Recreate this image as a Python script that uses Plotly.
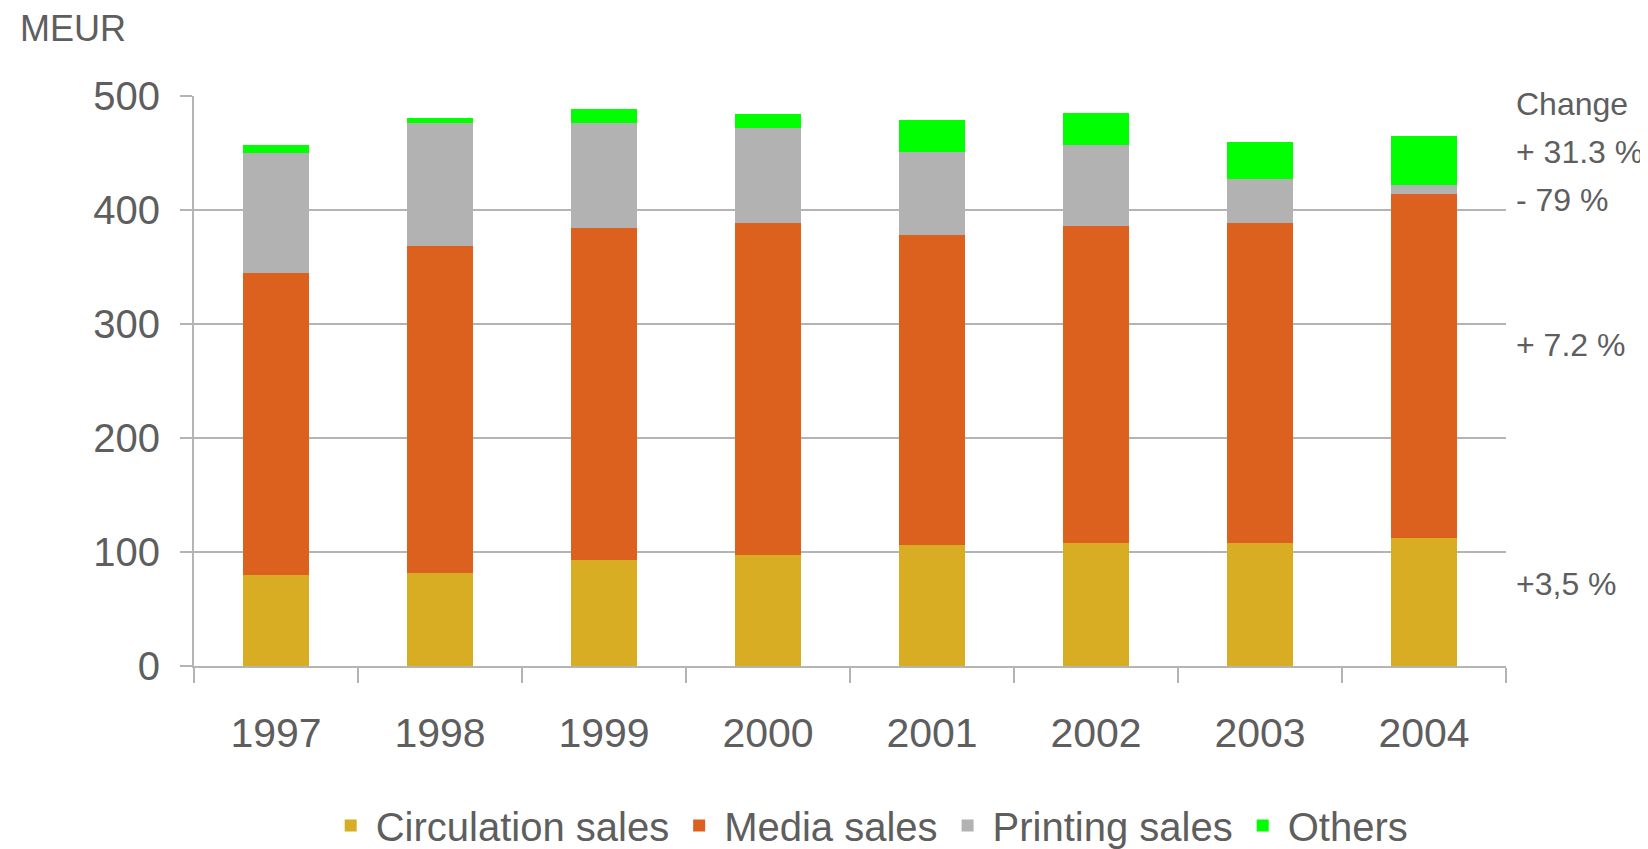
import plotly.graph_objects as go

years = ["1997", "1998", "1999", "2000", "2001", "2002", "2003", "2004"]

circulation = [80, 82, 93, 97, 106, 108, 108, 112]
media = [265, 286, 291, 292, 272, 278, 281, 302]
printing = [105, 108, 92, 83, 73, 71, 38, 8]
others = [7, 5, 13, 12, 28, 28, 33, 43]

change_labels = ["Change", "+ 31.3 %", "- 79 %", "+ 7.2 %", "+3,5 %"]
change_y = [493, 451, 409, 282, 72]

series = [
    ("Circulation sales", circulation, "#D8AD23"),
    ("Media sales", media, "#DC611F"),
    ("Printing sales", printing, "#B2B2B2"),
    ("Others", others, "#00FF00"),
]

FONT = "Liberation Sans, Arial, sans-serif"
TEXT = "#5E5E5E"
GRID = "#B4B4B4"

fig = go.Figure()
for name, vals, color in series:
    fig.add_trace(go.Bar(x=years, y=vals, name=name, marker_color=color,
                         marker_line_width=0))

annotations = [
    dict(text="MEUR", xref="paper", yref="paper", x=-0.134, y=1.118,
         xanchor="left", yanchor="middle", showarrow=False,
         font=dict(family=FONT, size=36, color=TEXT))
]
for lab, yy in zip(change_labels, change_y):
    annotations.append(dict(text=lab, xref="paper", yref="y", x=1.006, y=yy,
                            xanchor="left", yanchor="middle", showarrow=False,
                            font=dict(family=FONT, size=32, color=TEXT)))

# the page body adds an 8px offset, so margins are shifted to compensate
fig.update_layout(
    barmode="stack",
    bargap=0.6,
    width=1648, height=849,
    margin=dict(l=186, r=150, t=88, b=191, autoexpand=False),
    paper_bgcolor="white", plot_bgcolor="white",
    font=dict(family=FONT, color=TEXT),
    xaxis=dict(
        showgrid=False, showline=True, linecolor=GRID, linewidth=2,
        ticks="outside", tickson="boundaries", ticklen=15, tickcolor=GRID,
        tickwidth=2, tickfont=dict(size=41, family=FONT, color=TEXT),
        ticklabelstandoff=30, automargin=False,
    ),
    yaxis=dict(
        range=[0, 500], tickvals=[0, 100, 200, 300, 400, 500],
        showgrid=True, gridcolor=GRID, gridwidth=2,
        showline=True, linecolor=GRID, linewidth=2,
        ticks="outside", ticklen=12, tickcolor=GRID, tickwidth=2,
        tickfont=dict(size=40, family=FONT, color=TEXT),
        ticklabelstandoff=12, zeroline=False, automargin=False,
    ),
    legend=dict(orientation="h", traceorder="normal", x=0.515,
                xanchor="center", y=-0.28, yanchor="middle",
                font=dict(size=40, family=FONT, color=TEXT),
                itemwidth=40, tracegroupgap=0),
    annotations=annotations,
)

fig.write_html("out.html")
